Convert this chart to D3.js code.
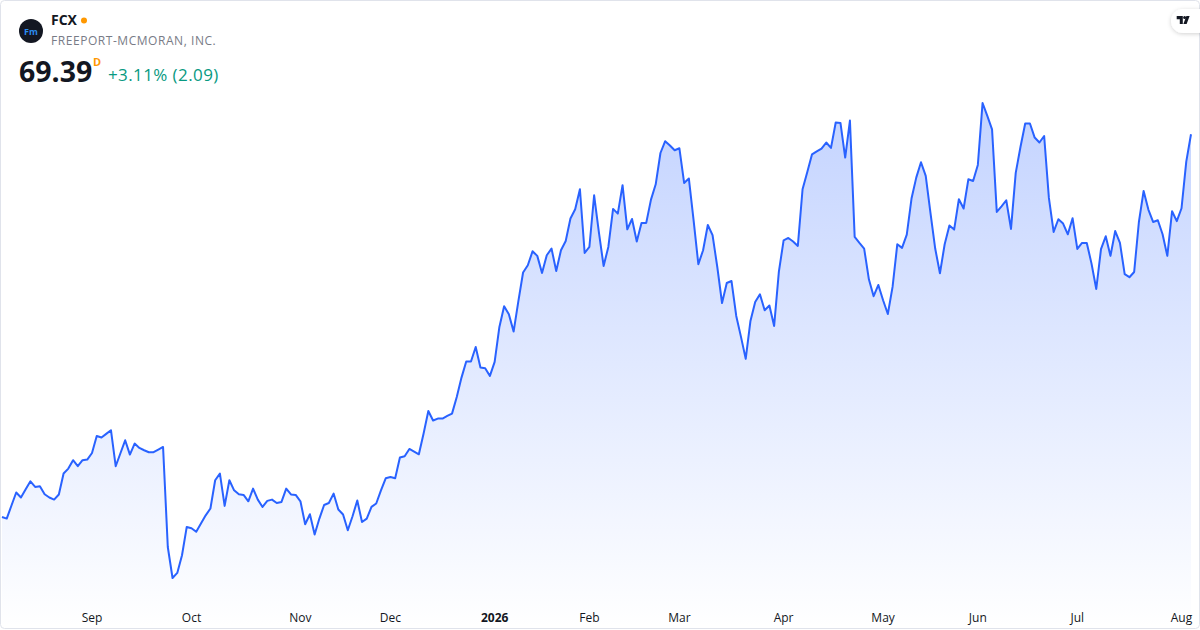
<!DOCTYPE html>
<html>
<head>
<meta charset="utf-8">
<script src="https://cdn.jsdelivr.net/npm/d3@7"></script>
<style>
  body { margin: 0; background: #fff; }
  svg { display: block; font-family: "Open Sans", "Noto Sans", sans-serif; }
</style>
</head>
<body>
<div id="chart-area"></div>
<script>
var canvasWidth = 1200
var canvasHeight = 630

// trading calendar: Aug 5 2025 -> Aug 5 2026
var startDay = "2025-08-05"
var endDay = "2026-08-05"
var holidays = ["2025-09-01", "2025-11-27", "2025-12-25", "2026-01-01", "2026-01-19",
	"2026-02-16", "2026-04-03", "2026-05-25", "2026-06-19", "2026-07-03"]

// daily close
var closes = [
	40.15, 40.03, 41.03, 42.02, 41.64, 42.27, 42.88, 42.45, 42.50, 41.89,
	41.64, 41.48, 41.87, 43.47, 43.85, 44.49, 44.03, 44.49, 44.54, 45.04,
	46.34, 46.22, 46.50, 46.78, 44.03, 45.02, 46.01, 44.92, 45.76, 45.43,
	45.25, 45.10, 45.10, 45.30, 45.50, 37.86, 35.49, 35.88, 37.23, 39.39,
	39.29, 39.02, 39.65, 40.28, 40.80, 42.96, 43.47, 41.00, 42.96, 42.19,
	41.89, 41.84, 41.35, 42.32, 41.48, 40.92, 41.38, 41.48, 41.22, 41.30,
	42.32, 41.87, 41.84, 41.35, 39.60, 40.36, 38.81, 40.03, 41.07, 41.22,
	41.94, 40.72, 40.34, 39.14, 40.21, 41.41, 39.77, 40.03, 40.92, 41.18,
	42.19, 43.11, 43.21, 43.11, 44.69, 44.79, 45.35, 45.15, 44.94, 46.53,
	48.25, 47.52, 47.67, 47.67, 47.87, 48.05, 49.32, 50.80, 52.03, 52.03,
	53.14, 51.57, 51.52, 50.93, 52.00, 54.67, 56.25, 55.64, 54.32, 56.63,
	58.83, 59.38, 60.45, 60.10, 58.80, 60.15, 60.66, 58.95, 60.53, 61.24,
	62.95, 63.66, 65.19, 60.32, 60.78, 64.73, 61.91, 59.33, 60.78, 63.69,
	63.33, 65.50, 62.13, 62.92, 61.20, 62.62, 62.62, 64.40, 65.57, 67.96,
	68.86, 68.53, 68.17, 68.32, 65.67, 66.01, 62.82, 59.46, 60.53, 62.46,
	61.68, 59.25, 56.50, 58.03, 58.18, 55.51, 53.91, 52.23, 55.13, 56.58,
	57.17, 55.95, 56.31, 54.75, 58.90, 61.29, 61.47, 61.20, 60.86, 65.19,
	66.51, 67.86, 68.09, 68.30, 68.76, 68.35, 70.29, 70.26, 67.61, 70.44,
	61.55, 61.09, 60.66, 58.31, 57.02, 57.88, 56.71, 55.66, 57.73, 60.99,
	60.71, 61.73, 64.48, 66.08, 67.25, 66.21, 63.38, 60.66, 58.77, 60.99,
	62.42, 62.11, 64.43, 63.72, 65.95, 65.82, 67.05, 71.78, 70.79, 69.77,
	63.46, 63.89, 64.35, 62.16, 66.44, 68.42, 70.21, 70.21, 69.14, 68.76,
	69.26, 64.53, 61.93, 62.90, 62.57, 61.75, 62.98, 60.63, 61.09, 61.09,
	59.51, 57.57, 60.61, 61.60, 60.10, 62.00, 61.09, 58.70, 58.47, 58.87,
	62.69, 65.06, 63.64, 62.69, 62.82, 61.75, 60.10, 63.51, 62.75, 63.74,
	67.30, 69.39
]

var monthNames = ["Jan", "Feb", "Mar", "Apr", "May", "Jun", "Jul", "Aug", "Sep", "Oct", "Nov", "Dec"]

var symbol = "FCX"
var company = "FREEPORT-MCMORAN, INC."
var lastPrice = "69.39"
var change = "+3.11% (2.09)"

var fmt = d3.timeFormat("%Y-%m-%d")
var parse = d3.timeParse("%Y-%m-%d")

var days = d3.timeDay.range(parse(startDay), d3.timeDay.offset(parse(endDay), 1))
	.filter(function(d){ return d.getDay() != 0 && d.getDay() != 6 && holidays.indexOf(fmt(d)) < 0 })

var data = days.map(function(d, i){ return {date: d, close: closes[i]} })

var svg = d3.select("#chart-area")
	.append("svg")
	.attr("width", canvasWidth)
	.attr("height", canvasHeight)

var x = d3.scaleLinear()
	.domain([0, data.length - 1])
	.range([2, 1191])

var y = d3.scaleLinear()
	.domain(d3.extent(closes))
	.range([578, 103])

var defs = svg.append("defs")
var grad = defs.append("linearGradient")
	.attr("id", "fill")
	.attr("gradientUnits", "userSpaceOnUse")
	.attr("x1", 0).attr("y1", 100)
	.attr("x2", 0).attr("y2", 628)
grad.append("stop").attr("offset", "0%").attr("stop-color", "#2962ff").attr("stop-opacity", 0.28)
grad.append("stop").attr("offset", "100%").attr("stop-color", "#2962ff").attr("stop-opacity", 0.0)

var shadow = defs.append("filter").attr("id", "shadow")
	.attr("x", "-50%").attr("y", "-50%").attr("width", "200%").attr("height", "200%")
shadow.append("feDropShadow")
	.attr("dx", 0).attr("dy", 1).attr("stdDeviation", 2)
	.attr("flood-color", "#000").attr("flood-opacity", 0.18)

var area = d3.area()
	.x(function(d, i){ return x(i) })
	.y0(628)
	.y1(function(d){ return y(d.close) })

var line = d3.line()
	.x(function(d, i){ return x(i) })
	.y(function(d){ return y(d.close) })

svg.append("path")
	.datum(data)
	.attr("d", area)
	.attr("fill", "url(#fill)")

svg.append("path")
	.datum(data)
	.attr("d", line)
	.attr("fill", "none")
	.attr("stroke", "#2962ff")
	.attr("stroke-width", 2)
	.attr("stroke-linejoin", "round")

// month ticks at first trading day of each month
var ticks = data.map(function(d, i){ return i })
	.filter(function(i){ return i > 0 && data[i].date.getMonth() != data[i - 1].date.getMonth() })

svg.append("g")
	.selectAll("text")
	.data(ticks)
	.enter().append("text")
		.attr("x", function(i){ return x(i) })
		.attr("y", 622)
		.attr("text-anchor", "middle")
		.attr("font-size", "12px")
		.attr("fill", "#131722")
		.attr("font-weight", function(i){ return data[i].date.getMonth() == 0 ? "bold" : "normal" })
		.text(function(i){
			var d = data[i].date
			return d.getMonth() == 0 ? d.getFullYear() : monthNames[d.getMonth()]
		})

// frame
svg.append("rect")
	.attr("x", 0.5).attr("y", 0.5)
	.attr("width", canvasWidth - 1).attr("height", canvasHeight - 2)
	.attr("rx", 4)
	.attr("fill", "none")
	.attr("stroke", "#e0e3eb")

// header
var head = svg.append("g")
head.append("circle").attr("cx", 31).attr("cy", 31).attr("r", 12).attr("fill", "#131722")
head.append("text")
	.attr("x", 31).attr("y", 34.5)
	.attr("text-anchor", "middle")
	.attr("font-size", "9px").attr("font-weight", "bold")
	.attr("fill", "#2b8cf0")
	.text("Fm")
head.append("text")
	.attr("x", 51).attr("y", 25)
	.attr("font-size", "14px").attr("font-weight", "bold")
	.attr("fill", "#131722")
	.text(symbol)
head.append("circle").attr("cx", 84).attr("cy", 20.5).attr("r", 3).attr("fill", "#ff9800")
head.append("text")
	.attr("x", 51).attr("y", 45)
	.attr("font-size", "12px")
	.attr("fill", "#787b86")
	.attr("letter-spacing", "0.55px")
	.text(company)
head.append("text")
	.attr("x", 19).attr("y", 82)
	.attr("font-size", "28.5px").attr("font-weight", "bold")
	.attr("fill", "#131722")
	.text(lastPrice)
head.append("text")
	.attr("x", 93).attr("y", 66)
	.attr("font-size", "11px").attr("font-weight", "bold")
	.attr("fill", "#ff9800")
	.text("D")
head.append("text")
	.attr("x", 108).attr("y", 81)
	.attr("font-size", "17px")
	.attr("letter-spacing", "0.4px")
	.attr("fill", "#089981")
	.text(change)

// tv badge
var badge = svg.append("g")
badge.append("rect")
	.attr("x", 1171).attr("y", 9)
	.attr("width", 40).attr("height", 24).attr("rx", 12)
	.attr("fill", "#fff")
	.attr("filter", "url(#shadow)")
badge.append("path")
	.attr("d", "M1176.7,16 H1182.8 V24 H1179.8 V19.3 H1176.7 Z")
	.attr("fill", "#131722")
badge.append("circle")
	.attr("cx", 1184.6).attr("cy", 17.5).attr("r", 1.5)
	.attr("fill", "#131722")
badge.append("path")
	.attr("d", "M1186.4,16 H1189.6 L1186.6,24 H1183.4 Z")
	.attr("fill", "#131722")
</script>
</body>
</html>
